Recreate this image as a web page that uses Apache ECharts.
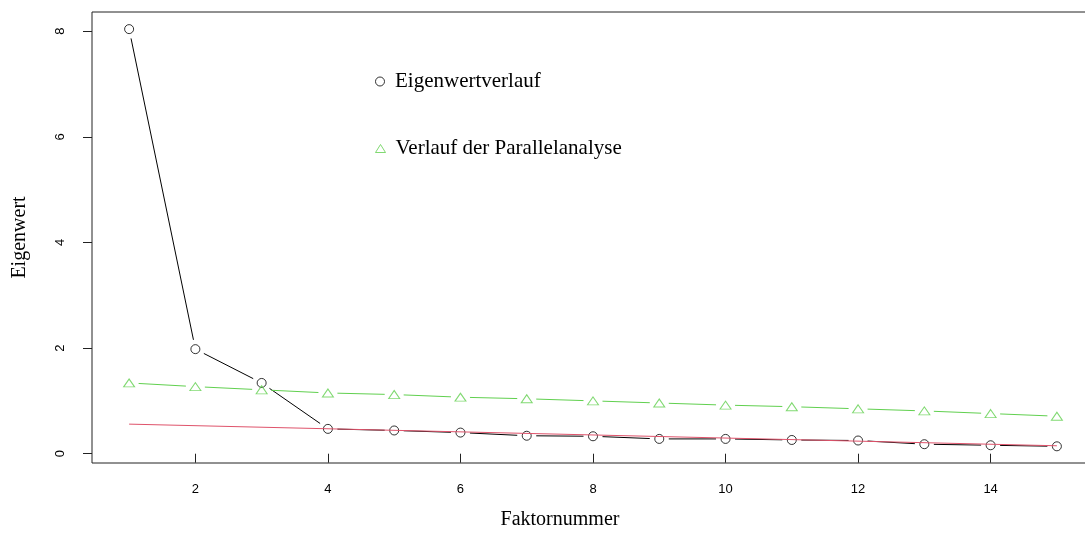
<!DOCTYPE html>
<html>
<head>
<meta charset="utf-8">
<title>Eigenwertverlauf und Parallelanalyse</title>
<script src="https://cdn.jsdelivr.net/npm/echarts@6/dist/echarts.min.js"></script>
<style>
  html, body { margin: 0; padding: 0; background: #fff; }
  #chart { width: 1085px; height: 544px; }
</style>
</head>
<body>
<div id="chart"></div>
<script>
// Factor numbers and the eigenvalues of the scree plot
const factors = [1, 2, 3, 4, 5, 6, 7, 8, 9, 10, 11, 12, 13, 14, 15];
const eigenvalues = [8.04, 1.98, 1.34, 0.47, 0.44, 0.40, 0.34, 0.33, 0.28, 0.28, 0.26, 0.25, 0.18, 0.16, 0.14];
// Mean eigenvalues from the parallel analysis
const parallelValues = [1.34, 1.27, 1.21, 1.15, 1.12, 1.07, 1.04, 1.00, 0.96, 0.92, 0.89, 0.85, 0.81, 0.76, 0.71];
// Straight reference line through the flat part of the curve
const refLineX = [1, 15];
const refLineY = [0.56, 0.15];
// Axis ticks
const xTicks = [2, 4, 6, 8, 10, 12, 14];
const yTicks = [0, 2, 4, 6, 8];

const nameEigen = 'Eigenwertverlauf';
const nameParallel = 'Verlauf der Parallelanalyse';

const BLACK = '#000000';
const GREEN = '#61D04F';
const RED = '#DF536B';
const SERIF = '"Liberation Serif", "DejaVu Serif", serif';
const SANS = '"Liberation Sans", Arial, sans-serif';

// Segments between consecutive points: [x0, y0, x1, y1]
function segments(xs, ys) {
  const out = [];
  for (let i = 0; i < xs.length - 1; i++) out.push([xs[i], ys[i], xs[i + 1], ys[i + 1]]);
  return out;
}

// Line segments that stop short of each point, leaving a gap round the symbols
function gappedLine(color, gap) {
  return function (params, api) {
    const p0 = api.coord([api.value(0), api.value(1)]);
    const p1 = api.coord([api.value(2), api.value(3)]);
    const dx = p1[0] - p0[0], dy = p1[1] - p0[1];
    const len = Math.hypot(dx, dy);
    if (len <= 2 * gap) return null;
    const ux = dx / len, uy = dy / len;
    return {
      type: 'line',
      shape: { x1: p0[0] + ux * gap, y1: p0[1] + uy * gap, x2: p1[0] - ux * gap, y2: p1[1] - uy * gap },
      style: { stroke: color, lineWidth: 1 }
    };
  };
}

const chart = echarts.init(document.getElementById('chart'), null, { renderer: 'canvas' });

const legendText = { fontFamily: SERIF, fontSize: 21, color: '#000', padding: [0, 0, 0, 5] };

chart.setOption({
  backgroundColor: '#ffffff',
  animation: false,
  grid: {
    left: 92, top: 12, width: 1002, height: 451,
    outerBoundsMode: 'none',
    show: true, borderColor: '#222', borderWidth: 1, backgroundColor: 'transparent'
  },
  legend: [
    {
      data: [{ name: nameEigen, icon: 'circle' }],
      itemStyle: { color: 'rgba(0,0,0,0)', borderColor: BLACK, borderWidth: 1 },
      left: 370, top: 66, itemWidth: 10, itemHeight: 9,
      selectedMode: false, textStyle: legendText
    },
    {
      data: [{ name: nameParallel, icon: 'triangle' }],
      itemStyle: { color: 'rgba(0,0,0,0)', borderColor: GREEN, borderWidth: 1 },
      left: 370, top: 133, itemWidth: 10, itemHeight: 8,
      selectedMode: false, textStyle: legendText
    }
  ],
  xAxis: {
    type: 'value', min: 0.44, max: 15.56,
    name: 'Faktornummer', nameLocation: 'middle', nameGap: 47,
    nameTextStyle: { fontFamily: SERIF, fontSize: 20, color: '#000', padding: [0, 66, 0, 0] },
    axisLine: { show: false },
    axisTick: { show: true, length: 9, customValues: xTicks, lineStyle: { color: '#222' } },
    axisLabel: { customValues: xTicks, margin: 20, fontFamily: SANS, fontSize: 13, color: '#000' },
    splitLine: { show: false }
  },
  yAxis: {
    type: 'value', min: -0.176, max: 8.364,
    name: 'Eigenwert', nameLocation: 'middle', nameGap: 62,
    nameTextStyle: { fontFamily: SERIF, fontSize: 20, color: '#000' },
    axisLine: { show: false },
    axisTick: { show: true, length: 9, customValues: yTicks, lineStyle: { color: '#222' } },
    axisLabel: { customValues: yTicks, rotate: 90, margin: 25, fontFamily: SANS, fontSize: 13, color: '#000' },
    splitLine: { show: false }
  },
  series: [
    {
      type: 'custom', name: 'eigen-line', silent: true, z: 2,
      renderItem: gappedLine(BLACK, 9.5),
      encode: { x: [0, 2], y: [1, 3] },
      data: segments(factors, eigenvalues)
    },
    {
      type: 'custom', name: 'parallel-line', silent: true, z: 2,
      renderItem: gappedLine(GREEN, 9.5),
      encode: { x: [0, 2], y: [1, 3] },
      data: segments(factors, parallelValues)
    },
    {
      type: 'scatter', name: nameEigen, z: 3,
      symbol: 'circle', symbolSize: 9,
      itemStyle: { color: 'rgba(0,0,0,0)', borderColor: BLACK, borderWidth: 1 },
      data: factors.map((f, i) => [f, eigenvalues[i]])
    },
    {
      type: 'scatter', name: nameParallel, z: 3,
      symbol: 'triangle', symbolSize: [11, 8],
      itemStyle: { color: 'rgba(0,0,0,0)', borderColor: GREEN, borderWidth: 1 },
      data: factors.map((f, i) => [f, parallelValues[i]])
    },
    {
      type: 'line', name: 'reference', z: 4, silent: true,
      symbol: 'none',
      lineStyle: { color: RED, width: 1 },
      data: refLineX.map((x, i) => [x, refLineY[i]])
    }
  ]
});
</script>
</body>
</html>
